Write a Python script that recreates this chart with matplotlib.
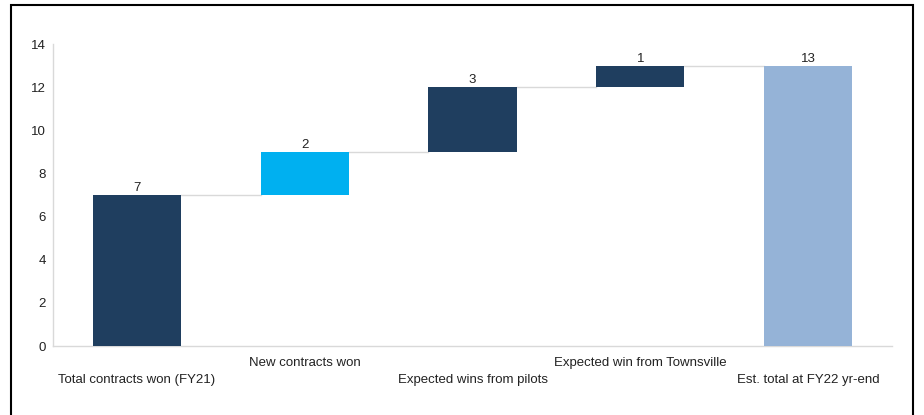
import numpy as np
import matplotlib.pyplot as plt
from matplotlib.patches import Rectangle

categories = ["Total contracts won (FY21)", "New contracts won",
              "Expected wins from pilots", "Expected win from Townsville",
              "Est. total at FY22 yr-end"]
values = [7, 2, 3, 1, 13]
is_total = [True, False, False, False, True]
colors = ["#1F3E5F", "#00B0F0", "#1F3E5F", "#1F3E5F", "#95B3D7"]

plt.rcParams['font.family'] = ['Liberation Sans', 'DejaVu Sans']

# bases for waterfall
bottoms = []
running = 0
for v, tot in zip(values, is_total):
    if tot:
        bottoms.append(0)
        running = v
    else:
        bottoms.append(running)
        running += v
tops = [b + v for b, v in zip(bottoms, values)]

fig = plt.figure(figsize=(9.24, 4.15), dpi=100)
ax = fig.add_axes([53 / 924, 1 - 346 / 415, (892 - 53) / 924, (346 - 44) / 415])

x = np.arange(len(categories))
w = 0.525
ax.bar(x, values, bottom=bottoms, width=w, color=colors, zorder=3)

# connector lines
for i in range(len(x) - 1):
    ax.plot([x[i] + w / 2, x[i + 1] - w / 2], [tops[i], tops[i]],
            color="#D9D9D9", lw=1, zorder=2)

# value labels
for i in range(len(x)):
    ax.annotate(str(values[i]), (x[i], tops[i]), xytext=(0, 0.5),
                textcoords="offset points", ha="center", va="bottom",
                fontsize=9.5, color="#222222")

ax.set_xlim(-0.5, len(x) - 0.5)
ax.set_ylim(0, 14)
ax.set_yticks(range(0, 15, 2))
ax.set_xticks([])
ax.tick_params(axis="y", length=0, labelsize=9.5, labelcolor="#222222", pad=5)

# staggered category labels
for i, lab in enumerate(categories):
    off = -34 if i % 2 == 0 else -17
    ax.annotate(lab, (x[i], 0), xycoords=("data", "axes fraction"),
                xytext=(0, off), textcoords="offset pixels",
                ha="center", va="center", fontsize=9.5, color="#222222")

for s in ["top", "right"]:
    ax.spines[s].set_visible(False)
for s in ["left", "bottom"]:
    ax.spines[s].set_color("#D9D9D9")
    ax.spines[s].set_linewidth(1)

# outer black frame
fig.patches.append(Rectangle((11 / 924, -0.01), (913 - 11) / 924, 1 - 5 / 415 + 0.01,
                             transform=fig.transFigure, fill=False,
                             edgecolor="black", lw=1.5))

fig.savefig("out.png", dpi=100)
